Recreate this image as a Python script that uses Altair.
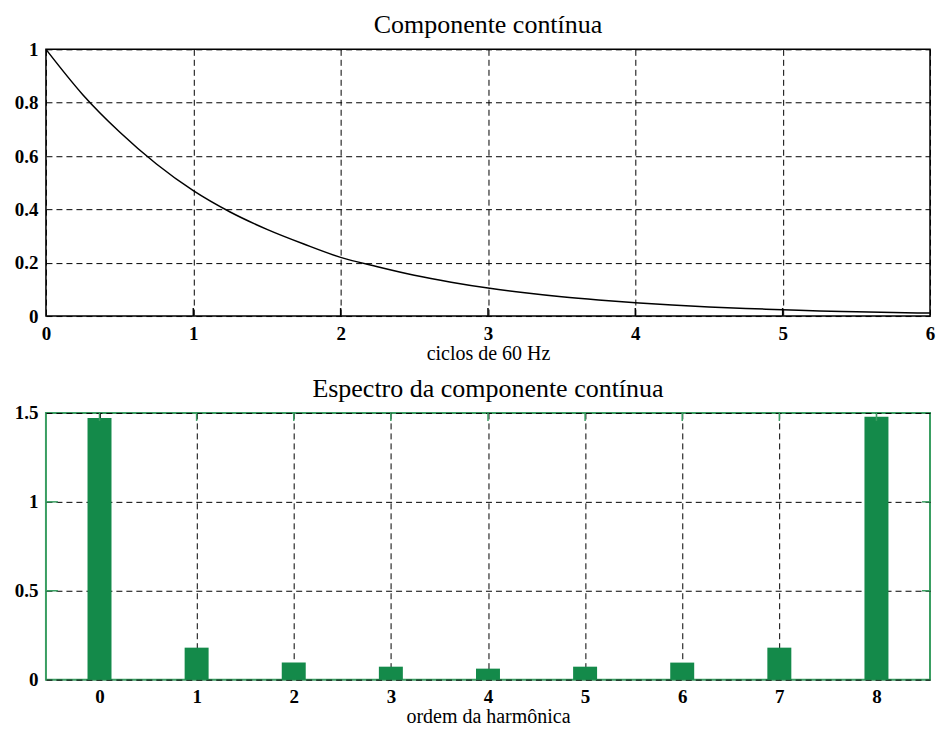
import altair as alt
import pandas as pd

# ---- data ----
ciclos = [0.0, 0.25, 0.5, 0.75, 1.0, 1.25, 1.5, 1.75, 2.0, 2.25, 2.5, 2.75, 3.0,
          3.25, 3.5, 3.75, 4.0, 4.25, 4.5, 4.75, 5.0, 5.25, 5.5, 5.75, 6.0]
componente = [1.0, 0.83, 0.69, 0.57, 0.47, 0.39, 0.325, 0.27, 0.22, 0.185, 0.153,
              0.127, 0.105, 0.087, 0.072, 0.06, 0.05, 0.041, 0.034, 0.028, 0.024,
              0.019, 0.016, 0.013, 0.011]
ordem = [0, 1, 2, 3, 4, 5, 6, 7, 8]
espectro = [1.472, 0.18, 0.096, 0.073, 0.062, 0.073, 0.096, 0.18, 1.478]

top_x_ticks = [0, 1, 2, 3, 4, 5, 6]
top_y_ticks = [0, 0.2, 0.4, 0.6, 0.8, 1]
bot_y_ticks = [0, 0.5, 1, 1.5]

FONT = "Liberation Serif"
GREEN = "#148a4a"
FRAME_GREEN = "#3a9e62"
W, H = 885, 267

df_top = pd.DataFrame({"t": ciclos, "v": componente})
df_bot = pd.DataFrame({"h": ordem, "a": espectro})

def axis(title, values):
    return alt.Axis(
        title=title, values=values, format="~g", grid=True,
        gridColor="black", gridDash=[6, 4], gridWidth=1, gridOpacity=1,
        domain=False, ticks=False, labelFont=FONT, labelFontSize=19,
        labelFontWeight="bold", labelColor="black", labelPadding=8,
        titleFont=FONT, titleFontSize=20, titleFontWeight="normal",
        titleColor="black", titlePadding=0, labelFlush=False,
    )

def title(text):
    return alt.TitleParams(text, font=FONT, fontSize=26, fontWeight="normal",
                           color="black", offset=2)

xt = alt.X("t:Q", scale=alt.Scale(domain=[0, 6], nice=False, zero=False),
           axis=axis("ciclos de 60 Hz", top_x_ticks))
yt = alt.Y("v:Q", scale=alt.Scale(domain=[0, 1], nice=False),
           axis=axis(None, top_y_ticks))

line = alt.Chart(df_top).mark_line(color="black", strokeWidth=1.5,
                                   interpolate="monotone").encode(x=xt, y=yt)
df_tt = pd.DataFrame({"t": [1, 2, 3, 4, 5]})
ticks_bottom_top = alt.Chart(df_tt).mark_rule(color="black", strokeWidth=1.5).encode(
    x="t:Q", y=alt.value(H - 8), y2=alt.value(H))
top = alt.layer(line, ticks_bottom_top).properties(
    width=W, height=H, title=title("Componente contínua"),
    view=alt.ViewBackground(stroke="black", strokeWidth=1.5),
)

xb = alt.X("h:Q", scale=alt.Scale(domain=[-0.5, 8.5], nice=False, zero=False),
           axis=axis("ordem da harmônica", ordem))
yb = alt.Y("a:Q", scale=alt.Scale(domain=[0, 1.5], nice=False),
           axis=axis(None, bot_y_ticks))

bars = alt.Chart(df_bot).mark_bar(color=GREEN, size=24).encode(x=xb, y=yb)
ticks_top = alt.Chart(df_bot).mark_rule(color=FRAME_GREEN, strokeWidth=1.5).encode(
    x="h:Q", y=alt.value(0), y2=alt.value(8))
df_yt = pd.DataFrame({"a": [0.5, 1.0]})
ticks_left = alt.Chart(df_yt).mark_rule(color=FRAME_GREEN, strokeWidth=1.5).encode(
    y="a:Q", x=alt.value(0), x2=alt.value(12))
ticks_right = alt.Chart(df_yt).mark_rule(color=FRAME_GREEN, strokeWidth=1.5).encode(
    y="a:Q", x=alt.value(W - 8), x2=alt.value(W))

bottom = alt.layer(bars, ticks_top, ticks_left, ticks_right).properties(
    width=W, height=H, title=title("Espectro da componente contínua"),
    view=alt.ViewBackground(stroke=FRAME_GREEN, strokeWidth=2),
)

chart = alt.vconcat(top, bottom, spacing=11).properties(
    padding={"left": 13, "top": 11, "right": 2, "bottom": 0},
    background="white",
)

chart.save("out.html", embed_options={"renderer": "svg", "actions": False})
